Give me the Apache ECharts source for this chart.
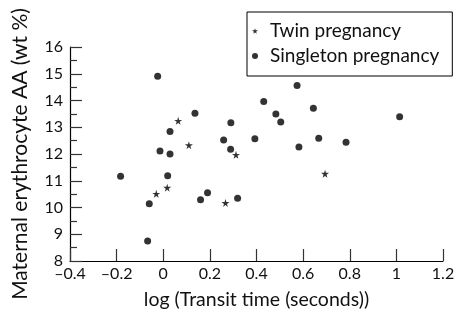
<!DOCTYPE html>
<html>
<head>
<meta charset="utf-8">
<script src="https://cdn.jsdelivr.net/npm/echarts@6/dist/echarts.min.js"></script>
<style>
  html, body { margin: 0; padding: 0; background: #fff; }
  #chart { width: 459px; height: 316px; }
</style>
</head>
<body>
<div id="chart"></div>
<script>
// log transit time (x) vs erythrocyte AA wt% (y)
const twinX = [0.064, 0.11, 0.312, 0.017, -0.03, 0.267, 0.694];
const twinY = [13.24, 12.33, 11.97, 10.74, 10.51, 10.17, 11.26];

const singletonX = [-0.024, 0.136, 0.29, 0.029, 0.259, 0.393, -0.014, 0.029, 0.289, -0.183,
  0.019, -0.06, 0.16, 0.19, 0.319, -0.067, 0.574, 0.431, 0.483, 0.504, 0.644, 1.014,
  0.582, 0.667, 0.784];
const singletonY = [14.91, 13.52, 13.17, 12.84, 12.52, 12.57, 12.11, 12.0, 12.18, 11.17,
  11.19, 10.14, 10.29, 10.55, 10.35, 8.75, 14.56, 13.96, 13.5, 13.2, 13.71, 13.39,
  12.26, 12.59, 12.44];

const xTicks = [-0.4, -0.2, 0, 0.2, 0.4, 0.6, 0.8, 1, 1.2];
const yTicks = [8, 9, 10, 11, 12, 13, 14, 15, 16];

const FONT = 'Lato, "Noto Sans", sans-serif';
const STAR = 'path://M50,0 L61,35 L98,35 L68,57 L79,91 L50,70 L21,91 L32,57 L2,35 L39,35 Z';

const pair = (xs, ys) => xs.map((x, i) => [x, ys[i]]);

const chart = echarts.init(document.getElementById('chart'));

chart.setOption({
  animation: false,
  textStyle: { fontFamily: FONT },
  grid: { left: 70, right: 16, top: 47, bottom: 55 },
  legend: {
    orient: 'vertical',
    left: 247,
    top: 12,
    padding: [8, 13, 9, 5],
    borderColor: '#000',
    borderWidth: 1,
    itemWidth: 6,
    itemHeight: 6,
    itemGap: 3,
    textStyle: { fontSize: 19, color: '#111', lineHeight: 22, padding: [0, 0, 0, 7], fontFamily: FONT },
    data: [
      { name: 'Twin pregnancy', icon: STAR },
      { name: 'Singleton pregnancy', icon: 'circle' }
    ]
  },
  xAxis: {
    type: 'value',
    min: xTicks[0],
    max: xTicks[xTicks.length - 1],
    interval: 0.2,
    name: 'log (Transit time (seconds))',
    nameLocation: 'middle',
    nameGap: 29,
    nameTextStyle: { fontSize: 19.5, color: '#111', fontFamily: FONT },
    axisLine: { onZero: false, lineStyle: { color: '#000', width: 1.2 } },
    axisTick: { inside: true, length: 12, lineStyle: { color: '#333', width: 1.2 } },
    axisLabel: {
      fontSize: 16, color: '#111', margin: 5, fontFamily: FONT,
      formatter: v => String(Math.round(v * 10) / 10).replace('-', '\u2013')
    },
    splitLine: { show: false }
  },
  yAxis: {
    type: 'value',
    min: yTicks[0],
    max: yTicks[yTicks.length - 1],
    interval: 1,
    name: 'Maternal erythrocyte AA (wt %)',
    nameLocation: 'middle',
    nameGap: 39,
    nameTextStyle: { fontSize: 21, color: '#111', fontFamily: FONT },
    axisLine: { show: true, onZero: false, lineStyle: { color: '#000', width: 1.2 } },
    axisTick: { show: true, inside: true, length: 12, lineStyle: { color: '#333', width: 1.2 } },
    minorTick: { show: true, splitNumber: 2, length: 7, lineStyle: { color: '#333', width: 1.2 } },
    axisLabel: { fontSize: 16, color: '#111', margin: 7, fontFamily: FONT },
    splitLine: { show: false }
  },
  series: [
    {
      name: 'Twin pregnancy',
      type: 'scatter',
      symbol: STAR,
      symbolSize: 8,
      itemStyle: { color: '#000' },
      data: pair(twinX, twinY)
    },
    {
      name: 'Singleton pregnancy',
      type: 'scatter',
      symbol: 'circle',
      symbolSize: 7,
      itemStyle: { color: '#000' },
      data: pair(singletonX, singletonY)
    }
  ]
});
</script>
</body>
</html>
